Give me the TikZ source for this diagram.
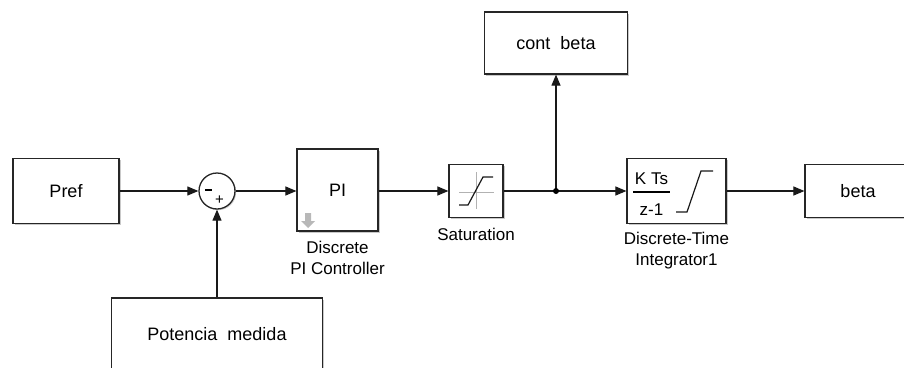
\documentclass[tikz,border=0pt]{standalone}
\usepackage{fontspec}
\setmainfont{Liberation Sans}
\usetikzlibrary{arrows.meta,shadows}
\begin{document}
\begin{tikzpicture}[x=1pt,y=-1pt,
  blk/.style={draw=black!85, line width=1.2pt, fill=white, inner sep=0pt,
    font=\fontsize{18}{21}\selectfont,
    drop shadow={shadow xshift=1.6pt, shadow yshift=-1.6pt, opacity=0.35, fill=black!60}},
  sumblk/.style={circle, draw=black!85, line width=1.3pt, fill=white, inner sep=0pt, minimum size=36pt,
    drop shadow={shadow xshift=1.2pt, shadow yshift=-1.2pt, opacity=0.3, fill=black!60}},
  wire/.style={line width=1.1pt, draw=black!90},
  sig/.style={wire, -{Triangle[length=11pt,width=9pt]}},
  lbl/.style={font=\fontsize{17}{21}\selectfont, align=center, inner sep=0pt},
  icon/.style={line width=1.2pt, draw=black!90},
  ticks/.style={line width=1pt, draw=black!30}]
\clip (0,0) rectangle (904,367);
\fill[white] (0,0) rectangle (904,367);

% blocks
\node[blk, minimum width=106pt, minimum height=65pt] (pref) at (66,191) {Pref};
\node[sumblk] (sum) at (217,191) {};
\node[blk, minimum width=81pt, minimum height=82pt] (pi) at (337.5,190) {PI};
\node[blk, minimum width=54pt, minimum height=53pt] (sat) at (476,191) {};
\node[blk, minimum width=99pt, minimum height=65pt] (int) at (676.5,191) {};
\node[blk, minimum width=143pt, minimum height=62pt] (cb) at (556,43) {cont\ \ beta};
\node[blk, minimum width=106pt, minimum height=53pt] (beta) at (858,191) {beta};
\node[blk, minimum width=211pt, minimum height=72pt] (pot) at (217,334) {Potencia\ \ medida};

% sum signs
\draw[line width=1.3pt] (205,190) -- (212,190);
\node[font=\fontsize{15}{15}\selectfont, inner sep=0pt] (plus) at (219.5,200.5) {+};

% PI block: gray down-arrow badge
\fill[black!28] (305,213) -- (311,213) -- (311,221) -- (315,221) -- (308,228) -- (301,221) -- (305,221) -- cycle;

% saturation icon
\draw[ticks] (459,192) -- (494,192);
\draw[ticks] (476,172) -- (476,209);
\draw[icon] (459,205) -- (468,205) -- (483,177) -- (493,177);

% integrator icon
\node[font=\fontsize{17}{17}\selectfont, inner sep=0pt] (kts) at (651.5,179) {K Ts};
\draw[line width=1.3pt] (633,192) -- (670,192);
\node[font=\fontsize{17}{17}\selectfont, inner sep=0pt] (zm) at (651.5,210) {z-1};
\draw[icon] (676,212) -- (687,212) -- (701,171) -- (713,171);

% block names
\node[lbl] (pilbl) at (337.5,258) {Discrete\\PI Controller};
\node[lbl] (satlbl) at (476,234) {Saturation};
\node[lbl] (intlbl) at (676.5,250.5) {Discrete-Time\\Integrator1};

% signals
\coordinate (j) at (556,191);
\draw[sig] (pref.east) -- (sum.west);
\draw[sig] (sum.east) -- (pi.west |- sum.east);
\draw[sig] (pi.east |- sum.east) -- (sat.west);
\draw[wire] (sat.east) -- (j);
\draw[sig] (j) -- (int.west);
\draw[sig] (j) -- (cb.south);
\draw[sig] (int.east) -- (beta.west);
\draw[sig] (pot.north) -- (sum.south);
\fill (j) circle (3pt);
\end{tikzpicture}
\end{document}
